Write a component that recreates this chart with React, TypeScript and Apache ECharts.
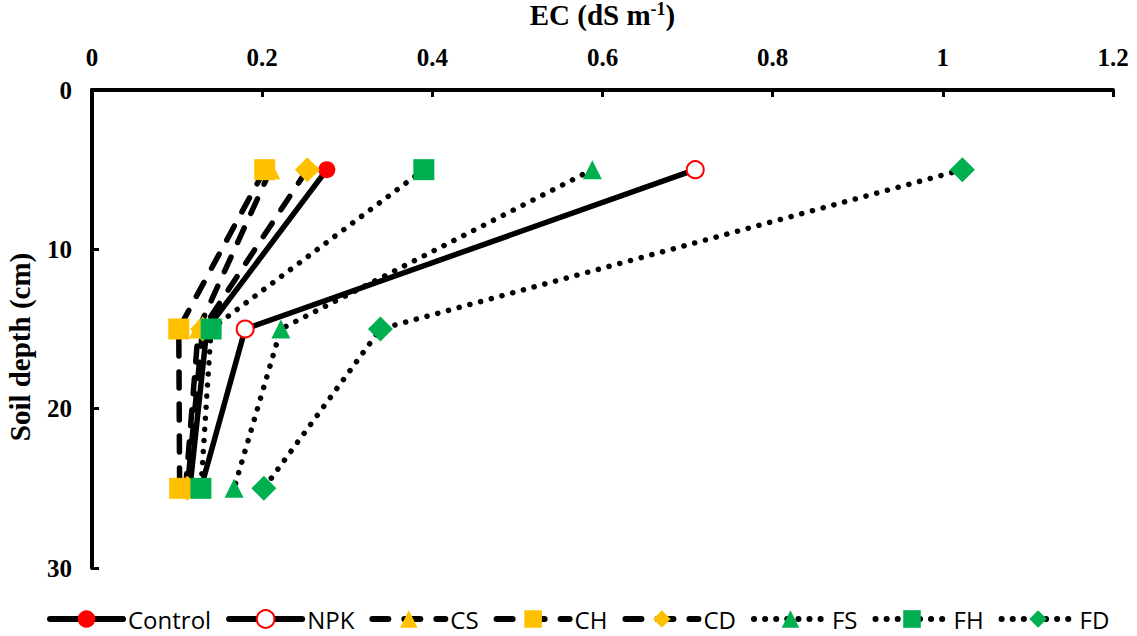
import React, { useEffect, useRef } from "react";
import * as echarts from "echarts";

const depths = [5, 15, 25];
const control = [0.276, 0.135, 0.115];
const npk = [0.709, 0.18, 0.128];
const cs = [0.21, 0.125, 0.11];
const ch = [0.203, 0.102, 0.103];
const cd = [0.253, 0.13, 0.112];
const fs = [0.588, 0.222, 0.167];
const fh = [0.39, 0.14, 0.128];
const fd = [1.023, 0.339, 0.202];
const xTicks = [0, 0.2, 0.4, 0.6, 0.8, 1, 1.2];
const yTicks = [0, 10, 20, 30];

const RED = "#FF0000";
const YEL = "#FFC000";
const GRN = "#00B050";

const SOLID = "solid";
const DASH = [16, 16];
const DOT = [0.1, 11];

function mk(name: string, vals: number[], dash: any, symbol: string, size: number, color: string, hollow = false) {
  return {
    name,
    type: "line",
    data: vals.map((v, i) => [v, depths[i]]),
    symbol,
    symbolSize: size,
    showAllSymbol: true,
    lineStyle: { color: "#000", width: 5.5, type: dash, cap: "round" },
    itemStyle: hollow
      ? { color: "#fff", opacity: 1, borderColor: color, borderWidth: 2 }
      : { color, borderWidth: 0 },
    emphasis: { disabled: true },
  };
}

export default function App() {
  const ref = useRef<HTMLDivElement>(null);
  useEffect(() => {
    document.body.style.margin = "0";
    const chart = echarts.init(ref.current!, null, { renderer: "svg" });
    const serif = "Liberation Serif";
    const lab = { fontFamily: serif, fontWeight: "bold" as const, fontSize: 25, color: "#000" };
    chart.setOption({
      animation: false,
      backgroundColor: "#fff",
      grid: { left: 92, right: 24, top: 90, bottom: 68, containLabel: false, outerBoundsMode: "none" },
      xAxis: {
        type: "value",
        position: "top",
        min: 0,
        max: 1.2,
        interval: 0.2,
        name: "{a|EC (dS m}{s|-1}{a|)}",
        nameLocation: "middle",
        nameGap: 60,
        nameTextStyle: {
          rich: {
            a: { fontFamily: serif, fontWeight: "bold", fontSize: 29, color: "#000" },
            s: { fontFamily: serif, fontWeight: "bold", fontSize: 18, color: "#000", verticalAlign: "top", padding: [0, 0, 12, 0] },
          },
        },
        axisLine: { show: true, lineStyle: { color: "#000", width: 4 } },
        axisTick: { show: true, inside: true, length: 7, lineStyle: { color: "#000", width: 3 } },
        axisLabel: {
          margin: 20,
          ...lab,
          formatter: (v: number) => {
            const t = xTicks.find((x) => Math.abs(x - v) < 1e-6);
            return t === undefined ? "" : String(t);
          },
        },
        splitLine: { show: false },
      },
      yAxis: {
        type: "value",
        inverse: true,
        min: 0,
        max: 30,
        interval: 10,
        name: "Soil depth (cm)",
        nameLocation: "middle",
        nameGap: 58,
        nameRotate: 90,
        nameTextStyle: {
          fontFamily: serif,
          fontWeight: "bold",
          fontSize: 29,
          color: "#000",
          padding: [0, 36, 0, 0],
        },
        axisLine: { show: true, lineStyle: { color: "#000", width: 4 } },
        axisTick: { show: true, inside: true, length: 7, lineStyle: { color: "#000", width: 3 } },
        axisLabel: {
          margin: 20,
          ...lab,
          formatter: (v: number) => (yTicks.includes(v) ? String(v) : ""),
        },
        splitLine: { show: false },
      },
      legend: {
        bottom: 0,
        left: 42,
        itemWidth: 73,
        itemHeight: 22,
        itemGap: 15,
        lineStyle: { width: 6 },
        textStyle: { fontFamily: "Open Sans", fontSize: 24, color: "#000" },
        data: ["Control", "NPK", "CS", "CH", "CD", "FS", "FH", "FD"],
      },
      series: [
        mk("Control", control, SOLID, "circle", 17, RED),
        mk("NPK", npk, SOLID, "circle", 17, RED, true),
        mk("CS", cs, DASH, "triangle", 19, YEL),
        mk("CH", ch, DASH, "rect", 21, YEL),
        mk("CD", cd, DASH, "diamond", 25, YEL),
        mk("FS", fs, DOT, "triangle", 19, GRN),
        mk("FH", fh, DOT, "rect", 21, GRN),
        mk("FD", fd, DOT, "diamond", 25, GRN),
      ],
    });
    return () => chart.dispose();
  }, []);
  return (
    <div
      ref={ref}
      style={{ position: "fixed", left: 0, top: 0, width: 1137, height: 636 }}
    />
  );
}
